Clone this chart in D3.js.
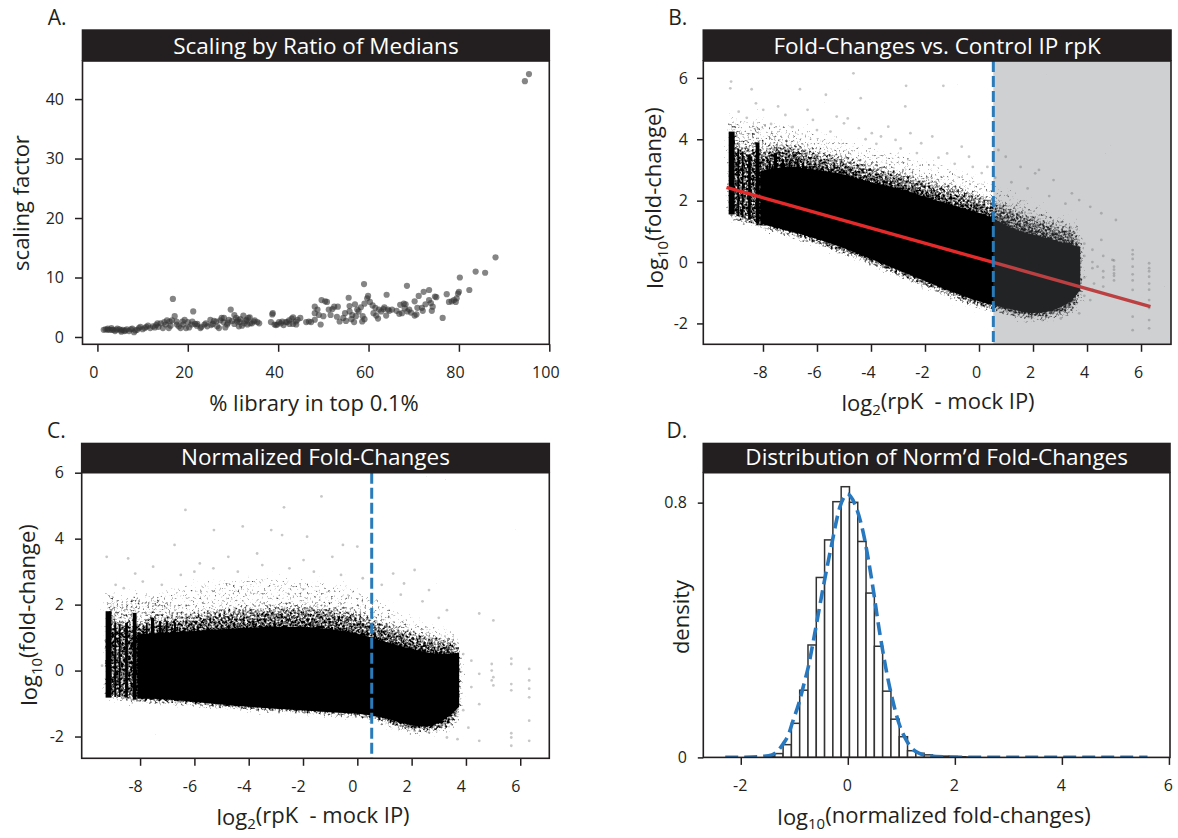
<!DOCTYPE html>
<html>
<head>
<meta charset="utf-8">
<script src="https://cdn.jsdelivr.net/npm/d3@7"></script>
<style>
  body { margin: 0; background: #fff; }
  svg text { font-family: "Open Sans", "Noto Sans", sans-serif; }
</style>
</head>
<body>
<svg id="fig" width="1178" height="838"></svg>
<script>
// ---------- A. scaling factor vs % of library in top 0.1% ----------
const libPctTop = [94.6,95.5,88.1,83.7,85.8,80.2,82.3,59.0,68.5,16.7,64.0,76.4,21.2,55.6,59.9,73.4,72.2,71.1,74.7,70.2,73.4,72.6,74.2,74.0,71.8,70.8,70.2,68.6,67.8,67.0,68.2,69.0,67.4,66.2,65.2,64.3,63.3,62.3,61.5,61.1,62.1,63.9,60.9,59.7,59.1,58.3,57.8,57.5,58.7,59.1,56.8,58.6,57.2,56.4,55.8,54.8,54.4,55.0,53.6,53.2,52.4,51.6,51.2,50.4,49.6,50.0,49.4,48.1,48.1,48.1,47.3,46.2,44.9,43.9,43.3,42.4,41.7,40.9,40.2,39.2,38.8,38.4,43.3,42.5,39.8,35.4,34.6,33.8,33.4,33.0,32.3,32.5,31.5,31.3,31.1,30.7,30.3,29.5,29.1,28.7,27.9,27.5,26.9,26.3,25.5,25.0,24.3,23.7,22.8,22.1,21.6,20.8,20.0,19.6,19.0,18.4,17.6,17.1,16.5,15.8,15.1,14.5,13.3,12.7,11.7,10.5,9.5,8.4,7.4,6.2,5.2,4.2,3.2,2.2,1.4,
  1.8,2.3,2.7,3.1,3.5,3.9,4.4,4.9,5.3,5.6,6.0,6.5,7.0,7.7,8.1,8.8,9.2,10.0,10.8,11.2,12.3,13.0,13.5,14.0,14.8,15.4,16.0,16.2,17.5,18.0,18.8,19.3,20.3,21.0,22.0,23.0,24.0,25.2,25.8,26.5,27.2,28.0,28.3,28.9,29.8,30.3,30.9,31.6,32.0,32.8,33.2,33.7,34.2,34.8,35.8,38.7,39.5,40.6,41.2,42.0,43.0,44.0,44.3,46.8,48.7,49.0,50.8,52.0,53.0,55.8,56.2,57.0,60.3,61.7,62.8,63.5,64.6,66.8,68.0,69.4,70.6,72.0,73.8,75.0,77.3,77.8,78.4,78.9,79.3,79.8,80.0,79.5];
const scalingFactor = [43.0,44.2,13.4,11.0,10.8,10.0,7.9,8.9,8.6,6.4,7.1,3.2,4.3,6.6,6.9,7.9,7.6,6.9,6.8,6.0,6.2,5.5,5.1,4.4,4.9,4.9,3.6,4.3,5.6,5.4,5.5,4.6,4.0,4.4,4.6,4.6,4.7,4.6,4.9,4.0,3.1,3.6,5.3,6.5,5.6,5.0,4.3,4.6,3.5,3.0,2.5,2.6,3.5,3.7,5.2,4.0,3.2,2.7,2.6,5.1,5.1,3.7,4.6,6.0,6.2,3.5,2.1,2.9,4.0,5.1,2.5,2.5,3.2,2.6,3.3,2.8,2.5,2.6,2.5,2.1,4.0,2.5,2.2,2.2,2.1,2.5,2.6,2.3,3.2,2.9,3.6,2.3,2.5,1.8,2.9,3.2,3.7,4.6,2.9,2.1,2.5,3.2,1.5,2.6,2.2,2.9,1.8,2.1,1.5,2.2,2.2,2.1,2.5,1.5,2.1,1.5,2.1,3.5,2.8,1.5,2.1,1.5,2.3,1.6,1.5,1.5,1.7,1.1,1.3,1.1,1.1,1.2,1.2,1.2,1.2,
  1.3,1.4,1.2,1.5,1.2,1.0,1.4,1.3,0.9,1.2,1.0,1.3,1.0,1.4,0.8,1.2,1.5,1.3,1.7,1.9,1.8,2.0,1.7,2.3,2.5,2.8,2.6,1.9,2.6,1.8,2.6,2.9,1.6,2.6,1.9,1.7,2.3,2.0,2.7,1.8,2.8,3.2,1.6,2.4,2.7,2.2,2.6,3.0,1.9,2.7,2.1,3.3,2.3,2.8,2.3,3.8,2.0,2.3,2.0,2.5,3.1,2.1,2.9,2.6,4.6,3.7,5.9,4.7,3.4,4.3,3.0,5.5,5.9,3.6,4.3,5.0,4.4,3.9,4.8,4.1,3.8,4.4,5.7,6.7,7.2,5.9,6.0,6.2,5.9,7.3,7.6,6.5];

// ---------- B. raw fold-changes vs control IP rpK ----------
const bCoreX   = [-8.1, -7, -6, -5, -4, -3, -2, -1, 0, 0.53, 1, 1.5, 2, 2.5, 3, 3.5, 3.75];
const bCoreTop = [2.95, 3.1, 3.0, 2.85, 2.6, 2.4, 2.13, 1.86, 1.6, 1.42, 1.2, 1.02, 0.9, 0.78, 0.66, 0.55, 0.5];
const bCoreBot = [1.25, 1.0, 0.75, 0.45, 0.1, -0.26, -0.62, -0.97, -1.28, -1.4, -1.5, -1.6, -1.66, -1.62, -1.48, -1.18, -0.9];
const bHaloX   = [-9.27, -8.1, -7, -6, -5, -4, -3, -2, -1, 0, 0.53, 1, 2, 3, 3.75, 3.8];
const bHaloTop = [3.7, 3.6, 3.75, 3.55, 3.35, 3.1, 2.9, 2.65, 2.4, 2.15, 1.95, 1.8, 1.45, 1.15, 0.95, 0.4];
const bHaloBot = [1.45, 1.15, 0.88, 0.6, 0.3, -0.05, -0.42, -0.78, -1.12, -1.45, -1.55, -1.68, -1.85, -1.72, -1.3, -0.9];
const bFaintTop = [4.7, 4.6, 4.5, 4.3, 4.1, 3.8, 3.6, 3.35, 3.1, 2.8, 2.55, 2.4, 2.0, 1.6, 1.3, 0.6];
const bFaintBot = [1.35, 1.05, 0.78, 0.5, 0.2, -0.15, -0.52, -0.88, -1.22, -1.55, -1.65, -1.8, -1.98, -1.9, -1.5, -1.0];
// discrete low-count columns on the left
const bStripeX0  = [-9.27, -8.95, -8.78, -8.55, -8.27, -7.78, -7.6, -7.3, -7.05, -6.75];
const bStripeX1  = [-9.05, -8.88, -8.72, -8.45, -8.13, -7.72, -7.48, -7.22, -6.98, -6.68];
const bStripeTop = [4.25, 3.7, 3.6, 3.5, 3.9, 3.3, 3.55, 3.35, 3.3, 3.35];
const bStripeBot = [1.55, 1.5, 1.45, 1.38, 1.25, 1.2, 1.12, 1.05, 1.0, 0.95];
const bStripeFaint = [4.9, 4.3, 4.1, 4.0, 5.1, 3.9, 4.2, 3.9, 3.8, 3.9];
const bOutX = [-9.18,-9.21,-8.42,-6.63,-5.67,-4.65,-2.7,-1.32,-4.38,-2.73,-8.26,-7.99,-7.44,-7.17,-6.35,-6.15,-5.27,-5.0,-4.86,-4.45,-3.97,-3.63,-3.36,-3.09,-2.54,-2.14,-1.73,-1.18,-0.64,-0.37,-0.23,0.31,0.72,0.99,1.54,2.08,2.22,2.76,3.44,3.71,4.12,4.53,5.07,4.53,4.94,5.0,5.0,5.69,5.69,5.69,5.69,5.69,6.3,6.3,6.3,6.3,6.3,4.39,4.26,4.12,3.71,3.03,2.35,1.81,
  5.0,5.0,5.0,5.0,5.69,5.69,5.69,5.69,5.69,6.3,6.3,6.3,6.3,6.3,4.6,4.6,4.6,4.6,4.2,4.2,4.2,4.2,3.9,3.9,3.9,3.9,
  -8.9,-8.6,-7.7,-6.9,-6.0,-5.5,-4.2,-3.8,-2.9,-2.3,-1.5,-0.9,0.1,0.6,1.2,1.8,2.6,3.2];
const bOutY = [5.88,5.66,5.63,5.63,5.45,6.15,5.74,5.74,5.34,5.07,5.17,4.96,5.07,4.79,4.96,4.63,4.74,4.52,4.68,4.36,4.2,4.09,4.41,3.98,4.2,3.87,4.09,3.54,3.76,3.43,3.1,3.1,3.65,3.43,3.1,2.89,3.0,2.67,2.24,2.02,1.8,1.59,1.37,0.72,0.07,-0.15,-0.37,0.39,-0.15,-0.91,-1.78,-2.22,-0.04,-0.48,-1.24,-1.89,-2.16,-0.15,-0.7,-1.24,-1.67,-1.84,-1.89,-1.78,
  -0.6,-0.25,0.05,-0.45,0.1,-0.4,-0.6,-1.3,0.25,-0.2,-0.7,-0.9,-0.3,-1.5,0.2,-0.3,-0.8,-0.5,0.4,-0.2,-0.9,0.0,0.6,-0.5,0.2,-1.1,
  4.9,4.7,4.5,4.4,4.3,4.25,4.0,3.85,3.7,3.55,3.4,3.2,2.9,2.75,2.6,2.4,2.15,1.9];
const fitX = [-9.35, 6.35];
const fitY = [2.43, -1.45];
const rpkCutoff = 0.53;

// ---------- C. normalized fold-changes ----------
const cCoreX   = [-8.1, -7, -6, -5, -4, -3, -2, -1, 0, 0.53, 1, 1.5, 2, 2.5, 3, 3.5, 3.75];
const cCoreTop = [1.1, 1.15, 1.2, 1.25, 1.3, 1.33, 1.32, 1.25, 1.12, 1.0, 0.88, 0.76, 0.66, 0.56, 0.5, 0.52, 0.55];
const cCoreBot = [-0.85, -0.88, -0.95, -1.03, -1.1, -1.16, -1.21, -1.26, -1.31, -1.36, -1.44, -1.56, -1.66, -1.7, -1.58, -1.3, -1.1];
const cHaloX   = [-9.27, -8.1, -7, -6, -5, -4, -3, -2, -1, 0, 0.53, 1, 2, 3, 3.75, 3.8];
const cHaloTop = [1.4, 1.4, 1.55, 1.7, 1.8, 1.85, 1.9, 1.9, 1.85, 1.7, 1.55, 1.4, 1.15, 0.95, 0.85, 0.4];
const cHaloBot = [-0.75, -0.93, -0.97, -1.03, -1.1, -1.17, -1.23, -1.28, -1.33, -1.38, -1.45, -1.55, -1.8, -1.8, -1.4, -1.0];
const cFaintTop = [2.4, 2.3, 2.5, 2.7, 2.8, 2.9, 2.9, 2.8, 2.7, 2.5, 2.3, 2.1, 1.7, 1.35, 1.1, 0.5];
const cFaintBot = [-0.88, -1.0, -1.05, -1.1, -1.17, -1.23, -1.28, -1.33, -1.38, -1.45, -1.55, -1.7, -1.95, -1.95, -1.55, -1.1];
const cStripeX0  = [-9.27, -8.95, -8.78, -8.55, -8.27, -7.78, -7.6, -7.3, -7.05, -6.75];
const cStripeX1  = [-9.05, -8.88, -8.72, -8.45, -8.13, -7.72, -7.48, -7.22, -6.98, -6.68];
const cStripeTop = [1.8, 1.45, 1.4, 1.45, 1.75, 1.45, 1.6, 1.5, 1.5, 1.45];
const cStripeBot = [-0.82, -0.8, -0.8, -0.82, -0.88, -0.85, -0.88, -0.9, -0.9, -0.92];
const cStripeFaint = [2.5, 2.0, 1.9, 2.0, 2.6, 2.0, 2.3, 2.1, 2.1, 2.0];
const cOutX = [-6.33,-2.7,-1.32,-5.28,-4.22,-3.17,-2.77,-1.85,-0.53,0,-6.73,-9.23,-8.44,-7.52,-8.18,-5.8,-4.75,-3.69,-1.98,-0.92,0.53,1.32,2.11,1.72,2.64,3.3,4.49,5.01,5.67,6.33,5.67,5.67,5.67,6.33,6.33,6.33,4.95,4.95,4.49,4.49,4.49,4.09,3.69,3.3,2.64,2.11,
  -8.9,-8.6,-7.9,-7.2,-6.5,-6.0,-5.3,-4.4,-3.5,-2.5,-1.6,-0.6,0.2,0.9,1.6,2.4,3.0,5.01,5.01,4.95,6.33,6.33,5.67,5.67,5.67,4.2,4.2,3.9,3.9,-9.4];
const cOutY = [4.87,4.95,5.28,4.26,4.37,4.26,4.11,4.06,3.81,3.76,3.81,3.45,3.4,3.15,2.94,3.25,3.45,3.55,3.35,3.45,3.15,2.94,3.05,2.64,2.44,1.83,1.73,1.52,0.36,0.05,-0.41,-2.03,-2.28,-0.81,-1.52,-2.13,0,-0.3,-0.1,-1.02,-2.13,-1.73,-2.08,-2.03,-1.88,-1.83,
  2.6,2.5,2.7,2.6,2.9,3.0,3.1,3.0,3.2,3.1,3.0,2.9,2.8,2.6,2.3,2.1,1.6,-0.2,-0.45,0.2,-0.3,-0.55,-0.6,-1.9,0.2,0.3,-0.5,-1.2,0.5,0.15];

// ---------- D. distribution of normalized fold-changes ----------
const histBreaks = [-1.519,-1.364,-1.209,-1.054,-0.899,-0.744,-0.589,-0.434,-0.279,-0.124,0.031,0.186,0.341,0.496,0.651,0.806,0.961,1.116,1.271,1.426,1.581,1.736,1.891,2.046,2.201,2.356];
const histDensity = [0.003,0.012,0.040,0.107,0.211,0.353,0.565,0.683,0.803,0.850,0.801,0.678,0.516,0.349,0.208,0.120,0.065,0.021,0.013,0.008,0.005,0.004,0.003,0.002,0.001];
const densX = [-2.29,-2.0,-1.8,-1.6,-1.42,-1.3,-1.21,-1.1,-1.03,-0.9,-0.82,-0.74,-0.62,-0.46,-0.3,-0.15,-0.01,0.13,0.28,0.44,0.59,0.72,0.84,0.96,1.08,1.2,1.35,1.55,1.8,2.2,3.0,4.0,5.6];
const densY = [0,0.0005,0.001,0.003,0.008,0.022,0.042,0.075,0.112,0.178,0.23,0.283,0.387,0.534,0.67,0.785,0.827,0.796,0.712,0.565,0.398,0.272,0.178,0.105,0.058,0.028,0.012,0.004,0.0015,0.0005,0,0,0];

// ---------- tick values ----------
const aXTicks = [0, 20, 40, 60, 80, 100];
const aYTicks = [0, 10, 20, 30, 40];
const rpkTicks = [-8, -6, -4, -2, 0, 2, 4, 6];
const fcTicks = [-2, 0, 2, 4, 6];
const dXTicks = [-2, 0, 2, 4, 6];
const dYTicks = [0, 0.8];

// ================= drawing =================
const INK = "#231f20";
const svg = d3.select("#fig");
const defs = svg.append("defs");

// Stippling for the thinning edges of the dense point clouds: the blurred
// density envelope raises a noise field, so speckles thin out with density.
(function stipple() {
  const f = defs.append("filter").attr("id", "stipple").attr("filterUnits", "userSpaceOnUse")
    .attr("x", 0).attr("y", 0).attr("width", 1178).attr("height", 838);
  f.append("feGaussianBlur").attr("in", "SourceAlpha").attr("stdDeviation", 4).attr("result", "soft");
  f.append("feTurbulence").attr("type", "fractalNoise").attr("baseFrequency", 0.42)
    .attr("numOctaves", 2).attr("seed", 11).attr("result", "noise");
  f.append("feColorMatrix").attr("in", "noise").attr("type", "matrix")
    .attr("values", "0 0 0 0 0  0 0 0 0 0  0 0 0 0 0  0 0 0 1 0").attr("result", "na");
  f.append("feComposite").attr("in", "na").attr("in2", "soft").attr("operator", "arithmetic")
    .attr("k1", 0).attr("k2", 1).attr("k3", 0.8).attr("k4", -0.88).attr("result", "sum");
  f.append("feComponentTransfer").attr("in", "sum")
    .append("feFuncA").attr("type", "linear").attr("slope", 2.6).attr("intercept", 0);
})();

function richText(sel, parts) {
  let down = false;
  parts.forEach(p => {
    const t = sel.append("tspan").text(p[0]);
    if (p[1] === "sub") { t.attr("font-size", "68%").attr("dy", "0.3em"); down = true; }
    else if (down) { t.attr("dy", "-0.3em"); down = false; }
  });
}

function makePanel(c) {
  const g = svg.append("g");
  const x = d3.scaleLinear(c.xDomain, [c.left, c.right]);
  const y = d3.scaleLinear(c.yDomain, [c.bottom, c.top]);
  const clipId = "clip" + c.id;
  defs.append("clipPath").attr("id", clipId).append("rect")
    .attr("x", c.left).attr("y", c.top).attr("width", c.right - c.left).attr("height", c.bottom - c.top);
  const plot = g.append("g").attr("clip-path", `url(#${clipId})`);
  const over = g.append("g");

  // title strip and panel letter
  over.append("rect").attr("x", c.left - 0.8).attr("y", c.barTop)
    .attr("width", c.right - c.left + 1.6).attr("height", c.top - c.barTop).attr("fill", INK);
  over.append("text").attr("x", (c.left + c.right) / 2).attr("y", c.top - 7.5)
    .attr("text-anchor", "middle").attr("fill", "#fff").attr("font-size", 22.5).text(c.title);
  over.append("text").attr("x", c.left - 16).attr("y", c.barTop - 4.5)
    .attr("text-anchor", "end").attr("fill", INK).attr("font-size", 21).text(c.id + ".");

  // frame
  over.append("rect").attr("x", c.left).attr("y", c.top).attr("width", c.right - c.left)
    .attr("height", c.bottom - c.top).attr("fill", "none").attr("stroke", INK).attr("stroke-width", 1.6);

  // axes
  const xa = over.append("g").attr("transform", `translate(0,${c.bottom})`)
    .call(d3.axisBottom(x).tickValues(c.xTicks).tickFormat(d => String(d)).tickSize(7.5).tickSizeOuter(0));
  const ya = over.append("g").attr("transform", `translate(${c.left},0)`)
    .call(d3.axisLeft(y).tickValues(c.yTicks).tickFormat(d => String(d)).tickSize(c.yTickLen).tickPadding(c.yPad).tickSizeOuter(0));
  [xa, ya].forEach(a => {
    a.attr("font-family", null).attr("font-size", 16);
    a.select(".domain").remove();
    a.selectAll("line").attr("stroke", INK).attr("stroke-width", 1.5);
    a.selectAll("text").attr("fill", INK);
  });
  xa.selectAll("text").attr("y", c.xLabY).attr("dy", null).attr("dx", c.xLabDx);

  // axis titles
  const xt = over.append("text").attr("x", c.xTitleX).attr("y", c.xTitleY).attr("text-anchor", "middle")
    .attr("fill", INK).attr("font-size", 22).style("white-space", "pre");
  richText(xt, c.xTitle);
  const yt = over.append("text").attr("transform", `translate(${c.yTitleX},${c.yTitleY}) rotate(-90)`)
    .attr("text-anchor", "middle").attr("fill", INK).attr("font-size", 22);
  richText(yt, c.yTitle);
  return { plot, x, y };
}

// ---------- panel A ----------
const A = makePanel({
  id: "A", title: "Scaling by Ratio of Medians",
  left: 82.5, right: 549.3, barTop: 29.3, top: 61, bottom: 344.3,
  xDomain: [-3.3, 100], yDomain: [-1.23, 46.4], xTicks: aXTicks, yTicks: aYTicks,
  yTickLen: 7.5, yPad: 11, xLabY: 34, xLabDx: -4,
  xTitle: [["% library in top 0.1%"]], xTitleX: 314, xTitleY: 411,
  yTitle: [["scaling factor"]], yTitleX: 29, yTitleY: 203
});
A.plot.selectAll("circle").data(d3.range(libPctTop.length)).join("circle")
  .attr("cx", i => A.x(libPctTop[i])).attr("cy", i => A.y(scalingFactor[i])).attr("r", 3.1)
  .attr("fill", "#333").attr("fill-opacity", 0.6);

// shared drawing for the two fold-change clouds
function drawCloud(P, s) {
  const band = (X, T, B) => d3.area().curve(d3.curveMonotoneX)
    .x(i => P.x(X[i])).y0(i => P.y(B[i])).y1(i => P.y(T[i]))(d3.range(X.length));
  const idx = d3.range(s.sx0.length);
  const stripeRects = (sel, top, bot) => sel.selectAll("rect").data(idx).join("rect")
    .attr("x", i => P.x(s.sx0[i])).attr("width", i => P.x(s.sx1[i]) - P.x(s.sx0[i]))
    .attr("y", i => P.y(top[i])).attr("height", i => P.y(bot[i]) - P.y(top[i]));

  // density envelope, rendered as stipple
  const env = P.plot.append("g").attr("filter", "url(#stipple)");
  env.append("path").attr("d", band(s.haloX, s.faintTop, s.faintBot)).attr("fill", "#000").attr("fill-opacity", 0.36);
  env.append("path").attr("d", band(s.haloX, s.haloTop, s.haloBot)).attr("fill", "#000").attr("fill-opacity", 0.6);
  stripeRects(env.append("g"), s.sFaint, s.sBot).attr("fill", "#000").attr("fill-opacity", 0.55);
  env.append("path").attr("d", band(s.coreX, s.coreTop, s.coreBot)).attr("fill", "#000");

  // saturated core
  P.plot.append("path").attr("d", band(s.coreX, s.coreTop, s.coreBot)).attr("fill", "#000");
  stripeRects(P.plot.append("g"), s.sTop, s.sBot).attr("fill", "#000");

  // isolated points
  P.plot.append("g").selectAll("circle").data(d3.range(s.ox.length)).join("circle")
    .attr("cx", i => P.x(s.ox[i])).attr("cy", i => P.y(s.oy[i])).attr("r", 1.4)
    .attr("fill", "#000").attr("fill-opacity", 0.22);
}

// ---------- panel B ----------
const B = makePanel({
  id: "B", title: "Fold-Changes vs. Control IP rpK",
  left: 703.3, right: 1171, barTop: 29.3, top: 61, bottom: 344.3,
  xDomain: [-10.21, 7.11], yDomain: [-2.68, 6.55], xTicks: rpkTicks, yTicks: fcTicks,
  yTickLen: 6.3, yPad: 9, xLabY: 34, xLabDx: -3,
  xTitle: [["log"], ["2", "sub"], ["(rpK  - mock IP)"]], xTitleX: 938, xTitleY: 411,
  yTitle: [["log"], ["10", "sub"], ["(fold-change)"]], yTitleX: 663, yTitleY: 198
});
drawCloud(B, {
  coreX: bCoreX, coreTop: bCoreTop, coreBot: bCoreBot,
  haloX: bHaloX, haloTop: bHaloTop, haloBot: bHaloBot, faintTop: bFaintTop, faintBot: bFaintBot,
  sx0: bStripeX0, sx1: bStripeX1, sTop: bStripeTop, sBot: bStripeBot, sFaint: bStripeFaint,
  ox: bOutX, oy: bOutY
});
B.plot.append("path").attr("d", d3.line().x(i => B.x(fitX[i])).y(i => B.y(fitY[i]))([0, 1]))
  .attr("stroke", "#e42a2a").attr("stroke-width", 3.4).attr("fill", "none");
B.plot.append("rect").attr("x", B.x(rpkCutoff)).attr("y", B.y.range()[1])
  .attr("width", B.x.range()[1] - B.x(rpkCutoff)).attr("height", B.y.range()[0] - B.y.range()[1])
  .attr("fill", "#6b6d72").attr("fill-opacity", 0.32);
B.plot.append("line").attr("x1", B.x(rpkCutoff)).attr("x2", B.x(rpkCutoff))
  .attr("y1", B.y.range()[1]).attr("y2", B.y.range()[0])
  .attr("stroke", "#2b7bba").attr("stroke-width", 3).attr("stroke-dasharray", "11 4");

// ---------- panel C ----------
const C = makePanel({
  id: "C", title: "Normalized Fold-Changes",
  left: 81.7, right: 549.3, barTop: 442.7, top: 472.7, bottom: 758.3,
  xDomain: [-10.15, 7.07], yDomain: [-2.66, 6.0], xTicks: rpkTicks, yTicks: fcTicks,
  yTickLen: 6.7, yPad: 11, xLabY: 34, xLabDx: -5,
  xTitle: [["log"], ["2", "sub"], ["(rpK  - mock IP)"]], xTitleX: 313, xTitleY: 825,
  yTitle: [["log"], ["10", "sub"], ["(fold-change)"]], yTitleX: 37, yTitleY: 615
});
drawCloud(C, {
  coreX: cCoreX, coreTop: cCoreTop, coreBot: cCoreBot,
  haloX: cHaloX, haloTop: cHaloTop, haloBot: cHaloBot, faintTop: cFaintTop, faintBot: cFaintBot,
  sx0: cStripeX0, sx1: cStripeX1, sTop: cStripeTop, sBot: cStripeBot, sFaint: cStripeFaint,
  ox: cOutX, oy: cOutY
});
C.plot.append("line").attr("x1", C.x(rpkCutoff)).attr("x2", C.x(rpkCutoff))
  .attr("y1", C.y.range()[1]).attr("y2", C.y.range()[0])
  .attr("stroke", "#2b7bba").attr("stroke-width", 3).attr("stroke-dasharray", "11 4");

// ---------- panel D ----------
const D = makePanel({
  id: "D", title: "Distribution of Norm\u2019d Fold-Changes",
  left: 703.3, right: 1170, barTop: 442.7, top: 472.7, bottom: 757.4,
  xDomain: [-2.70, 6.02], yDomain: [0, 0.894], xTicks: dXTicks, yTicks: dYTicks,
  yTickLen: 5.5, yPad: 11, xLabY: 34, xLabDx: -1,
  xTitle: [["log"], ["10", "sub"], ["(normalized fold-changes)"]], xTitleX: 934, xTitleY: 825,
  yTitle: [["density"]], yTitleX: 689, yTitleY: 617
});
D.plot.selectAll("rect").data(d3.range(histDensity.length)).join("rect")
  .attr("x", i => D.x(histBreaks[i])).attr("width", i => D.x(histBreaks[i + 1]) - D.x(histBreaks[i]))
  .attr("y", i => D.y(histDensity[i])).attr("height", i => D.y(0) - D.y(histDensity[i]))
  .attr("fill", "#fff").attr("stroke", "#333").attr("stroke-width", 1.5);
D.plot.append("path")
  .attr("d", d3.line().curve(d3.curveMonotoneX).x(i => D.x(densX[i])).y(i => D.y(densY[i]))(d3.range(densX.length)))
  .attr("fill", "none").attr("stroke", "#2878c0").attr("stroke-width", 3.6).attr("stroke-dasharray", "13 6");
</script>
</body>
</html>
